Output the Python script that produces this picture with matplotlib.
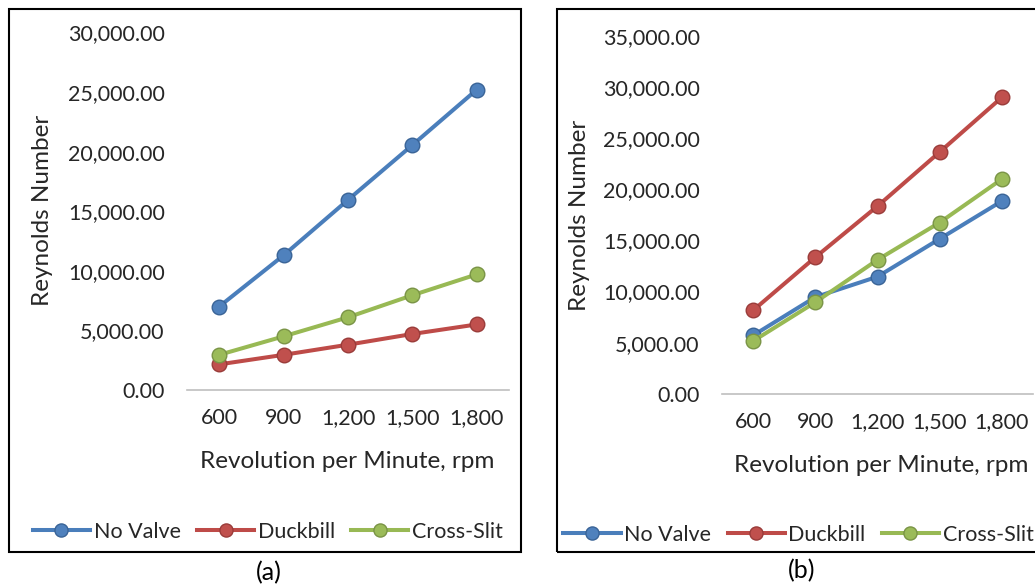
import matplotlib.pyplot as plt
from matplotlib.patches import Rectangle

rpm = ['600', '900', '1,200', '1,500', '1,800']
series_names = ['No Valve', 'Duckbill', 'Cross-Slit']

# panel (a)
re_a_novalve = [7000, 11300, 15950, 20550, 25200]
re_a_duckbill = [2150, 2950, 3800, 4700, 5500]
re_a_crossslit = [2950, 4500, 6100, 7950, 9700]

# panel (b)
re_b_novalve = [5700, 9450, 11450, 15150, 18850]
re_b_duckbill = [8150, 13350, 18350, 23650, 29000]
re_b_crossslit = [5150, 8950, 13100, 16750, 21000]

line_colors = ['#4A7EBB', '#BE4B48', '#98B954']
marker_faces = ['#4F81BD', '#C0504D', '#9BBB59']
marker_edges = ['#3A6497', '#9A3C3A', '#7A9446']

W, H = 1035, 584
plt.rcParams['font.family'] = ['Lato', 'DejaVu Sans']
fs = 15.5
title_fs = 17.5
txt = '#262626'

fig = plt.figure(figsize=(W / 100, H / 100), dpi=100)


def px_axes(x0, x1, ytop, ybot):
    return fig.add_axes([x0 / W, 1 - ybot / H, (x1 - x0) / W, (ybot - ytop) / H])


def draw_panel(ax, data, ymax, step):
    x = range(len(rpm))
    for vals, name, lc, mf, me in zip(data, series_names, line_colors, marker_faces, marker_edges):
        ax.plot(x, vals, color=lc, lw=2.9, marker='o', ms=10.5,
                markerfacecolor=mf, markeredgecolor=me, markeredgewidth=1.0,
                label=name, clip_on=False)
    ax.set_xlim(-0.5, len(rpm) - 0.5)
    ax.set_ylim(0, ymax)
    ax.set_xticks(list(x))
    ax.set_xticklabels(rpm)
    ax.set_yticks(range(0, ymax + 1, step))
    ax.set_yticklabels(['{:,.2f}'.format(v) for v in range(0, ymax + 1, step)])
    ax.tick_params(length=0, labelsize=fs, colors=txt)
    ax.tick_params(axis='y', pad=16)
    ax.tick_params(axis='x', pad=13)
    for s in ['top', 'left', 'right']:
        ax.spines[s].set_visible(False)
    ax.spines['bottom'].set_color('#BFBFBF')
    ax.spines['bottom'].set_linewidth(1.2)
    ax.patch.set_alpha(0)


ax_a = px_axes(187, 509, 32.4, 390)
draw_panel(ax_a, [re_a_novalve, re_a_duckbill, re_a_crossslit], 30000, 5000)
ax_b = px_axes(722, 1033, 36, 393.7)
draw_panel(ax_b, [re_b_novalve, re_b_duckbill, re_b_crossslit], 35000, 5000)

# panel frames
fig.patches.append(Rectangle((9 / W, 1 - 552 / H), (521 - 9) / W, (552 - 9) / H,
                             transform=fig.transFigure, fill=False, ec='black', lw=1.5))
fig.patches.append(Rectangle((557 / W, 1 - 552 / H), (1060 - 557) / W, (552 - 9) / H,
                             transform=fig.transFigure, fill=False, ec='black', lw=1.5))

# axis titles
for xl, yl, xy, yy in [(347, 461, 43, 210), (881, 465, 579, 215)]:
    fig.text(xl / W, 1 - yl / H, 'Revolution per Minute, rpm', ha='center', va='center',
             fontsize=title_fs, color=txt)
    fig.text(xy / W, 1 - yy / H, 'Reynolds Number', ha='center', va='center',
             rotation=90, fontsize=title_fs, color=txt)

# legends
for ax, cx, cy in [(ax_a, 268, 531.5), (ax_b, 798.5, 535)]:
    ax.legend(loc='center', bbox_to_anchor=(cx / W, 1 - cy / H), bbox_transform=fig.transFigure,
              ncol=3, frameon=False, fontsize=fs, handlelength=2.65, handletextpad=0.18,
              columnspacing=0.75, borderpad=0, labelcolor=txt, markerscale=0.9)

fig.text(269 / W, 1 - 573 / H, '(a)', ha='center', va='center', fontsize=18, color='black')
fig.text(802 / W, 1 - 571 / H, '(b)', ha='center', va='center', fontsize=18, color='black')

fig.savefig('out.png', dpi=100)
